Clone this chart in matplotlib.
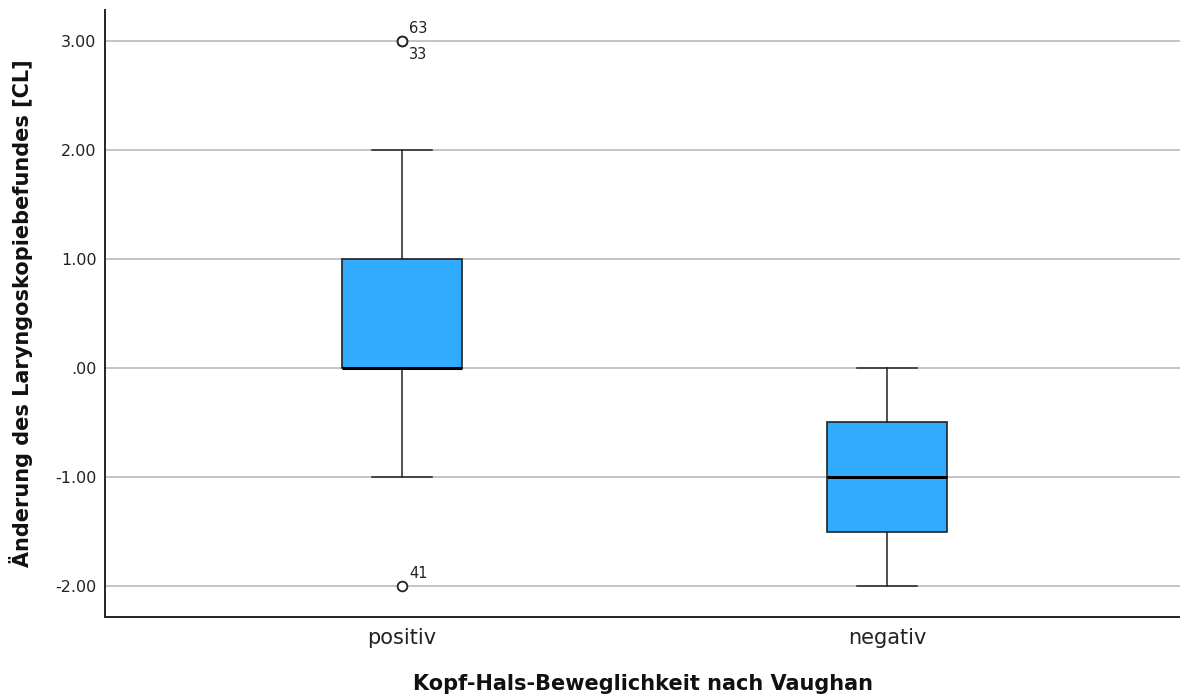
import matplotlib.pyplot as plt

# Boxplot-Kennwerte je Gruppe
groups = ["positiv", "negativ"]
q1 = [0.0, -1.5]
median = [0.0, -1.0]
q3 = [1.0, -0.5]
whisker_low = [-1.0, -2.0]
whisker_high = [2.0, 0.0]
outliers = [[3.0, 3.0, -2.0], []]
outlier_ids = [[("63", 3.0, "above"), ("33", 3.0, "below"), ("41", -2.0, "above")], []]

yticks = [-2.0, -1.0, 0.0, 1.0, 2.0, 3.0]
ytick_labels = ["-2.00", "-1.00", ".00", "1.00", "2.00", "3.00"]

fig = plt.figure(figsize=(11.8, 6.97), dpi=100)
ax = fig.add_axes([0.089, 0.1148, 0.911, 0.871])

stats = []
for i, g in enumerate(groups):
    stats.append(dict(label=g, q1=q1[i], med=median[i], q3=q3[i],
                      whislo=whisker_low[i], whishi=whisker_high[i],
                      fliers=outliers[i]))

positions = [1, 2]
ax.bxp(stats, positions=positions, widths=0.247, patch_artist=True,
       boxprops=dict(facecolor="#31abfe", edgecolor="#222222", linewidth=1.2),
       medianprops=dict(color="black", linewidth=2.2),
       whiskerprops=dict(color="#222222", linewidth=1.1),
       capprops=dict(color="#222222", linewidth=1.1),
       capwidths=0.124,
       flierprops=dict(marker="o", markerfacecolor="white",
                       markeredgecolor="#222222", markersize=7,
                       markeredgewidth=1.3),
       zorder=3)

# Fallnummern der Ausreißer
for pos, ids in zip(positions, outlier_ids):
    for text, val, where in ids:
        dy = 9 if where == "above" else -10
        ax.annotate(text, (pos, val), xytext=(5, dy), textcoords="offset points",
                    fontsize=10.5, color="#222222", va="center", ha="left")

ax.set_xlim(0.388, 2.604)
ax.set_ylim(-2.284, 3.284)
ax.set_yticks(yticks)
ax.set_yticklabels(ytick_labels, fontsize=11.5)
ax.set_xticks(positions)
ax.set_xticklabels(groups, fontsize=15)
ax.tick_params(axis="both", length=0, colors="#222222")
ax.tick_params(axis="y", pad=6)
ax.tick_params(axis="x", pad=8)

ax.yaxis.grid(True, color="#b4b4b4", linewidth=1.1)
ax.set_axisbelow(True)
for side in ["top", "right"]:
    ax.spines[side].set_visible(False)
for side in ["left", "bottom"]:
    ax.spines[side].set_linewidth(1.4)
    ax.spines[side].set_color("#222222")

ax.set_xlabel("Kopf-Hals-Beweglichkeit nach Vaughan", fontsize=15,
              fontweight="bold", labelpad=19, color="#111111")
ax.set_ylabel("Änderung des Laryngoskopiebefundes [CL]", fontsize=15,
              fontweight="bold", labelpad=16, color="#111111")

fig.savefig("out.png", dpi=100)
